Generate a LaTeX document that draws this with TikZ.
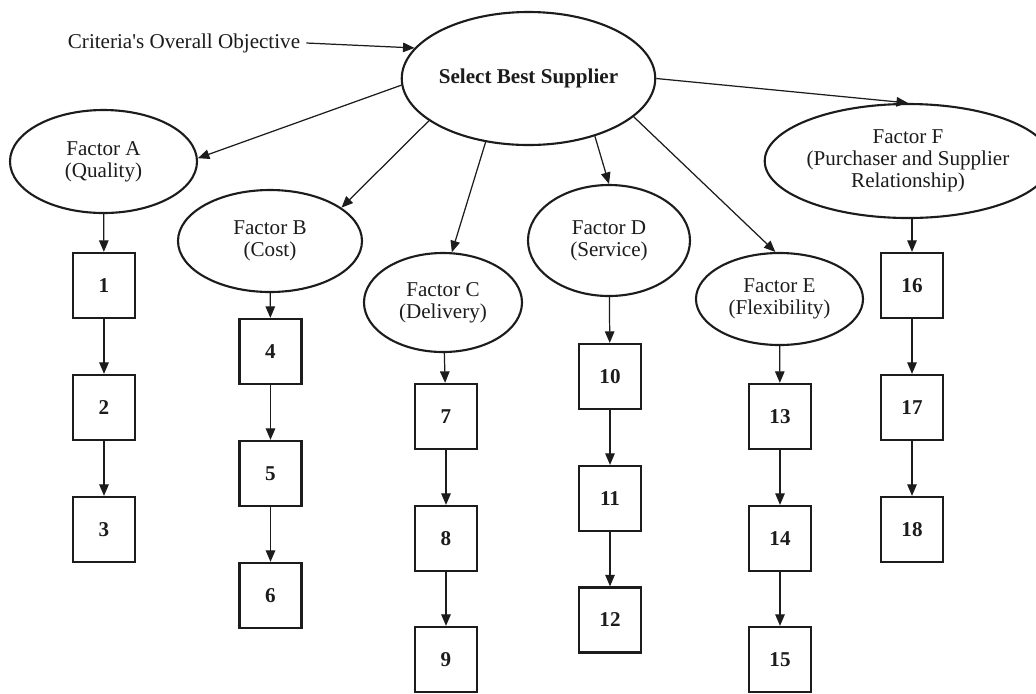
\documentclass[tikz,border=0pt]{standalone}
\usepackage{fontspec}
\setmainfont{Liberation Serif}
\usepackage{xcolor}
\usetikzlibrary{shapes.geometric,arrows.meta}
\definecolor{ink}{HTML}{1C1C1C}
\definecolor{paper}{HTML}{FFFFFF}
\tikzset{
  goal/.style={ellipse, draw=ink, line width=1.2pt, inner sep=0pt, text=ink, font=\fontsize{12}{12.5}\selectfont\bfseries},
  factor/.style={ellipse, draw=ink, line width=1.2pt, inner sep=0pt, align=center, text=ink, font=\fontsize{12}{12.5}\selectfont},
  sub/.style={rectangle, draw=ink, line width=1.3pt, minimum width=12.4mm, minimum height=13mm, inner sep=0pt, text=ink, font=\fontsize{12}{12.5}\selectfont\bfseries},
  link/.style={draw=ink, line width=0.7pt, -{Triangle[length=2.3mm,width=1.9mm]}},
  lab/.style={text=ink, font=\fontsize{12}{12.5}\selectfont},
}

\begin{document}
\begin{tikzpicture}[x=0.2mm, y=-0.2mm]
  \useasboundingbox[fill=paper] (0,0) rectangle (1036,693);

  % goal and the criteria around it
  \node[lab] (crit) at (184,43) {Criteria\textquotesingle s Overall Objective};
  \node[goal, minimum width=43.4mm, minimum height=26.6mm] (sel) at (528.5,78.5) {Select Best Supplier};

  \node[factor, minimum width=37.4mm, minimum height=20.6mm] (facA) at (103.5,161.5) {Factor A\\(Quality)};
  \node[factor, minimum width=36.8mm, minimum height=20.4mm] (facB) at (270,241) {Factor B\\(Cost)};
  \node[factor, minimum width=31.6mm, minimum height=19.8mm] (facC) at (443,302.5) {Factor C\\(Delivery)};
  \node[factor, minimum width=32.4mm, minimum height=22.2mm] (facD) at (609,240.5) {Factor D\\(Service)};
  \node[factor, minimum width=33.4mm, minimum height=18.4mm] (facE) at (779.5,299) {Factor E\\(Flexibility)};
  \node[factor, minimum width=49.6mm, minimum height=22.8mm] (facF) at (908,161) {Factor F\\(Purchaser and Supplier\\Relationship)};

  \draw[link] (crit.east) -- (sel.165);
  \draw[link] (sel.183) -- (facA.2);
  \draw[link] (sel.203) -- (facB.25);
  \draw[link] (sel.236) -- (facC.80);
  \draw[link] (sel.-41) -- (facD.north);
  \draw[link] (sel.-20) -- (facE.95);
  \draw[link] (sel.0) -- (facF.north);

  % sub-criteria
  \node[sub] (b1) at (104,285.5) {1};
  \node[sub] (b2) at (104,407.5) {2};
  \node[sub] (b3) at (104,529.5) {3};
  \node[sub] (b4) at (270.5,351.5) {4};
  \node[sub] (b5) at (270.5,473.5) {5};
  \node[sub] (b6) at (270.5,595.5) {6};
  \node[sub] (b7) at (446,416.5) {7};
  \node[sub] (b8) at (446,538.5) {8};
  \node[sub] (b9) at (446,659.5) {9};
  \node[sub] (b10) at (610,376.5) {10};
  \node[sub] (b11) at (610,498.5) {11};
  \node[sub] (b12) at (610,620) {12};
  \node[sub] (b13) at (780,416.5) {13};
  \node[sub] (b14) at (780,538.5) {14};
  \node[sub] (b15) at (780,659.5) {15};
  \node[sub] (b16) at (912,285.5) {16};
  \node[sub] (b17) at (912,407.5) {17};
  \node[sub] (b18) at (912,529.5) {18};

  \draw[link] (facA) -- (b1);
  \draw[link] (b1) -- (b2);
  \draw[link] (b2) -- (b3);
  \draw[link] (facB) -- (b4);
  \draw[link] (b4) -- (b5);
  \draw[link] (b5) -- (b6);
  \draw[link] (facC) -- (b7);
  \draw[link] (b7) -- (b8);
  \draw[link] (b8) -- (b9);
  \draw[link] (facD) -- (b10);
  \draw[link] (b10) -- (b11);
  \draw[link] (b11) -- (b12);
  \draw[link] (facE) -- (b13);
  \draw[link] (b13) -- (b14);
  \draw[link] (b14) -- (b15);
  \draw[link] (b16.north |- facF.south) -- (b16);
  \draw[link] (b16) -- (b17);
  \draw[link] (b17) -- (b18);
\end{tikzpicture}
\end{document}
